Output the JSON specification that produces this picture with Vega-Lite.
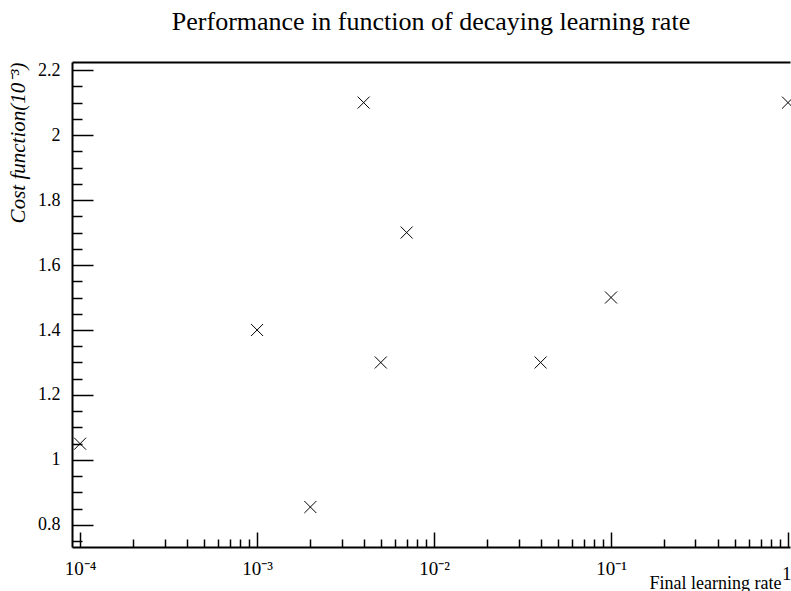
{
  "$schema": "https://vega.github.io/schema/vega-lite/v6.json",
  "width": 718,
  "height": 485,
  "autosize": {"type": "none"},
  "padding": {"left": 72, "top": 62, "right": 1, "bottom": 44},
  "background": "white",
  "config": {
    "view": {"stroke": null},
    "axis": {"grid": false, "labelFont": "Liberation Serif", "titleFont": "Liberation Serif", "labelColor": "black", "titleColor": "black", "domainColor": "black", "tickColor": "black"}
  },
  "title": {"text": "Performance in function of decaying learning rate", "font": "Liberation Serif", "fontSize": 26, "fontWeight": "normal", "color": "black", "anchor": "middle", "baseline": "alphabetic", "offset": 5},
  "data": {"values": [
    {"lr": 0.0001, "cost": 1.05},
    {"lr": 0.001, "cost": 1.4},
    {"lr": 0.002, "cost": 0.855},
    {"lr": 0.004, "cost": 2.1},
    {"lr": 0.005, "cost": 1.3},
    {"lr": 0.007, "cost": 1.7},
    {"lr": 0.04, "cost": 1.3},
    {"lr": 0.1, "cost": 1.5},
    {"lr": 1, "cost": 2.1}
  ]},
  "layer": [
    {
      "mark": {"type": "point", "shape": "M-1,-1L1,1M-1,1L1,-1", "filled": false, "stroke": "black", "strokeWidth": 1, "size": 144, "opacity": 1},
      "encoding": {
        "x": {"field": "lr", "type": "quantitative",
          "scale": {"type": "log", "domain": [0.00009, 1.026], "nice": false},
          "axis": {"orient": "bottom", "values": [0.0001, 0.001, 0.01, 0.1, 1], "tickSize": -15, "tickWidth": 1.5, "domainWidth": 2,
            "labelPadding": {"condition": {"test": "datum.value >= 1", "value": 32}, "value": 27},
            "labelAlign": {"condition": {"test": "datum.value >= 1", "value": "right"}, "value": "center"},
            "labelOffset": {"condition": {"test": "datum.value >= 1", "value": 3}, "value": 0},
            "labelFontSize": 19,
            "labelExpr": "datum.value >= 1 ? '1' : '10' + '⁻' + ['⁰','¹','²','³','⁴','⁵'][round(-log(datum.value)/LN10)]",
            "title": "Final learning rate", "titleFontSize": 18, "titleFontWeight": "normal", "titleAlign": "right", "titleBaseline": "alphabetic", "titleX": 709, "titleY": 41}},
        "y": {"field": "cost", "type": "quantitative",
          "scale": {"domain": [0.732, 2.225], "nice": false, "zero": false},
          "axis": {"orient": "left", "values": [0.8, 1, 1.2, 1.4, 1.6, 1.8, 2, 2.2], "tickSize": -21, "tickWidth": 1.5, "domainWidth": 2, "labelPadding": 33, "labelFontSize": 18,
            "labelExpr": "format(datum.value, '~g')",
            "title": "Cost function(10⁻³)", "titleFontSize": 21, "titleFontWeight": "normal", "titleFontStyle": "italic", "titleAnchor": "end", "titlePadding": 9}}
      }
    },
    {
      "mark": {"type": "point", "opacity": 0},
      "encoding": {
        "x": {"field": "lr", "type": "quantitative",
          "scale": {"type": "log", "domain": [0.00009, 1.026], "nice": false},
          "axis": {"orient": "bottom", "values": [0.0002, 0.0003, 0.0004, 0.0005, 0.0006, 0.0007, 0.0008, 0.0009, 0.002, 0.003, 0.004, 0.005, 0.006, 0.007, 0.008, 0.009, 0.02, 0.03, 0.04, 0.05, 0.06, 0.07, 0.08, 0.09, 0.2, 0.3, 0.4, 0.5, 0.6, 0.7, 0.8, 0.9], "tickSize": -8, "tickWidth": 1.5, "domain": false, "labels": false, "title": null}},
        "y": {"field": "cost", "type": "quantitative",
          "scale": {"domain": [0.732, 2.225], "nice": false, "zero": false},
          "axis": {"orient": "left", "values": [0.75, 0.85, 0.9, 0.95, 1.05, 1.1, 1.15, 1.25, 1.3, 1.35, 1.45, 1.5, 1.55, 1.65, 1.7, 1.75, 1.85, 1.9, 1.95, 2.05, 2.1, 2.15], "tickSize": -10, "tickWidth": 1.5, "domain": false, "labels": false, "title": null}}
      }
    },
    {
      "mark": {"type": "point", "opacity": 0},
      "encoding": {
        "x": {"field": "lr", "type": "quantitative",
          "scale": {"type": "log", "domain": [0.00009, 1.026], "nice": false},
          "axis": {"orient": "top", "ticks": false, "labels": false, "domainWidth": 2, "title": null}},
        "y": {"field": "cost", "type": "quantitative",
          "scale": {"domain": [0.732, 2.225], "nice": false, "zero": false},
          "axis": null}
      }
    }
  ],
  "resolve": {"axis": {"x": "independent", "y": "independent"}}
}
